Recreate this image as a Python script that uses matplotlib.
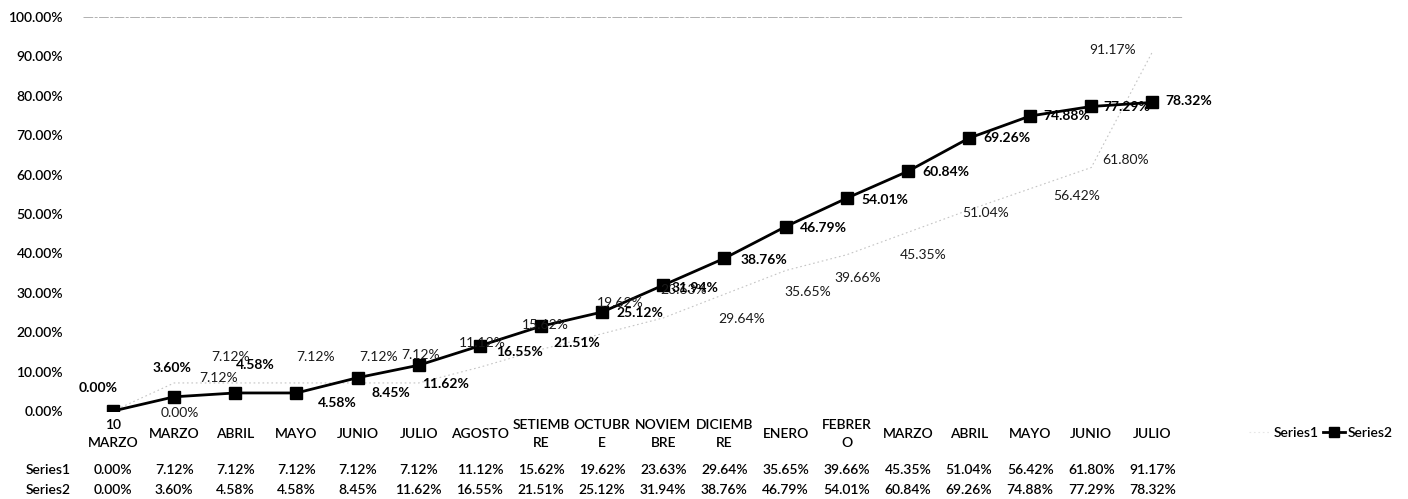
import matplotlib
matplotlib.use("Agg")
import matplotlib.pyplot as plt
from matplotlib.lines import Line2D
from matplotlib.transforms import blended_transform_factory

# Categories (months of the period) and the two cumulative series, in percent
categories = ["10\nMARZO", "MARZO", "ABRIL", "MAYO", "JUNIO", "JULIO", "AGOSTO",
              "SETIEMB\nRE", "OCTUBR\nE", "NOVIEM\nBRE", "DICIEMB\nRE", "ENERO",
              "FEBRER\nO", "MARZO", "ABRIL", "MAYO", "JUNIO", "JULIO"]
series1 = [0.00, 7.12, 7.12, 7.12, 7.12, 7.12, 11.12, 15.62, 19.62, 23.63,
           29.64, 35.65, 39.66, 45.35, 51.04, 56.42, 61.80, 91.17]
series2 = [0.00, 3.60, 4.58, 4.58, 8.45, 11.62, 16.55, 21.51, 25.12, 31.94,
           38.76, 46.79, 54.01, 60.84, 69.26, 74.88, 77.29, 78.32]
series_names = ["Series1", "Series2"]
yticks = [0, 10, 20, 30, 40, 50, 60, 70, 80, 90, 100]

plt.rcParams["font.family"] = ["Lato", "DejaVu Sans"]
FS = 10
W = "semibold"

fig = plt.figure(figsize=(14.08, 4.99), dpi=100)
ax = fig.add_axes([82.5 / 1408, 1 - 411 / 499, (1183 - 82.5) / 1408, (411 - 17) / 499])

x = list(range(len(categories)))
s1_color = "#c4c4c4"
ax.plot(x, series1, color=s1_color, lw=0.8, ls=(0, (1.5, 2.5)), zorder=2)
ax.plot(x, series2, color="black", lw=2.0, marker="s", markersize=8, zorder=3)

# Data label placement, in pixels relative to each point
s1_off = [(67, -2), (44, 5), (-5, 26), (19, 26), (21, 26), (2, 28), (2, 24), (4, 24),
          (18, 31), (20, 28), (17, -25), (22, -21), (11, -23), (15, -23), (17, -3),
          (47, -7), (34, 8), (-40, 2)]
s2_off = [(-15, 23), (-2, 29), (20, 28), (41, -10), (33, -15), (27, -19), (40, -6),
          (36, -17), (38, -1), (32, -3), (39, -2), (38, -1), (38, -2), (38, -1),
          (38, 0), (37, 0), (36, -1), (36, 1)]

for i, v in enumerate(series1):
    ax.annotate(f"{v:.2f}%", (i, v), xytext=s1_off[i], textcoords="offset pixels",
                ha="center", va="center", fontsize=FS, color="#1a1a1a", zorder=4)
for i, v in enumerate(series2):
    ax.annotate(f"{v:.2f}%", (i, v), xytext=s2_off[i], textcoords="offset pixels",
                ha="center", va="center", fontsize=FS, fontweight="bold",
                color="black", zorder=5)

ax.set_xlim(-0.5, len(categories) - 0.5)
ax.set_ylim(0, 100)
ax.set_yticks(yticks)
ax.set_yticklabels([f"{t:.2f}%" for t in yticks], fontsize=FS, fontweight=W)
ax.tick_params(axis="y", length=0, pad=14)
ax.set_xticks([])
for sp in ax.spines.values():
    sp.set_visible(False)

# Top gridline
ax.axhline(100, color="#b0b0b0", lw=0.7, ls=(0, (10, 1.5, 3, 1.5)), clip_on=False)

# Category labels and data table under the plot area
tr = blended_transform_factory(ax.transData, fig.transFigure)
for i, c in enumerate(categories):
    ax.text(i, 1 - 434 / 499, c, transform=tr, ha="center", va="center",
            fontsize=FS, fontweight=W, linespacing=1.6)
for row, (name, vals) in enumerate(zip(series_names, [series1, series2])):
    ypos = 1 - (470 + 20 * row) / 499
    fig.text(48 / 1408, ypos, name, ha="center", va="center", fontsize=FS, fontweight=W)
    for i, v in enumerate(vals):
        ax.text(i, ypos, f"{v:.2f}%", transform=tr, ha="center", va="center",
                fontsize=FS, fontweight=W)

# Legend
handles = [Line2D([], [], color="#e6e6e6", lw=0.8, ls=(0, (1.5, 2.5))),
           Line2D([], [], color="black", lw=2.0, marker="s", markersize=7)]
fig.legend(handles, series_names, loc="center left", bbox_to_anchor=(1236 / 1408, 1 - 433 / 499),
           ncol=2, frameon=False, prop={"size": FS, "weight": W}, handlelength=1.6,
           handletextpad=0.2, columnspacing=0.3)

fig.savefig("out.png", dpi=100)
